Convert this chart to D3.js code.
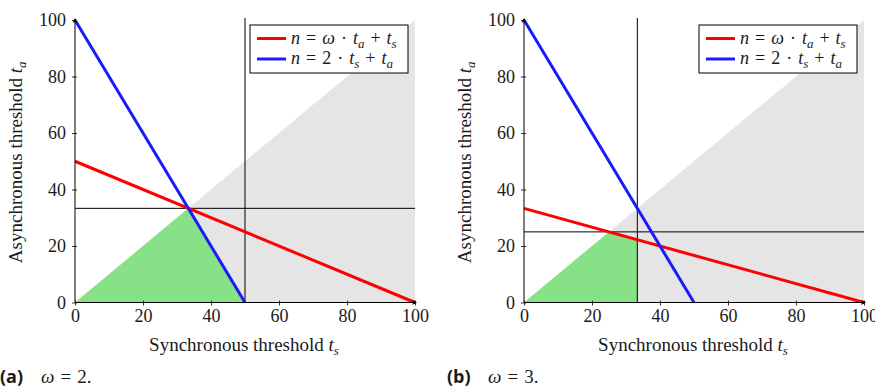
<!DOCTYPE html>
<html>
<head>
<meta charset="utf-8">
<script src="https://cdn.jsdelivr.net/npm/d3@7"></script>
<style>
  body { margin: 0; background: #fff; }
</style>
</head>
<body>
<svg id="chart" width="875" height="389"></svg>
<script>
// data for the two panels
var omegas = [2, 3];
var panelNames = ["(a)", "(b)"];
var tickValues = [0, 20, 40, 60, 80, 100];
var grayRegion = [[0, 0], [100, 100], [100, 0]];
var greenRegions = [
  [[0, 0], [33.33, 33.33], [50, 0]],
  [[0, 0], [25, 25], [33.33, 22.22], [33.33, 0]]
];
var redLines = [
  [[0, 50], [100, 0]],
  [[0, 33.33], [100, 0]]
];
var blueLines = [
  [[0, 100], [50, 0]],
  [[0, 100], [50, 0]]
];
var vLines = [50, 33.33];
var hLines = [33.33, 25];

var SERIF = "Liberation Serif";
var svg = d3.select("#chart");
var panelLeft = [75, 524];
var plotW = 340, plotTop = 20, plotBottom = 302.5;

function serifText(sel, size) {
  return sel.style("font-family", SERIF).style("font-size", (size || 18) + "px").attr("fill", "#1a1a1a");
}

// [text, italic, subscript, dx before]
function mathText(t, parts) {
  var prevSub = false;
  parts.forEach(function(p) {
    var ts = t.append("tspan").text(p[0]);
    if (p[1]) ts.attr("font-style", "italic");
    var dy = 0;
    if (p[2]) { ts.style("font-size", "13px"); if (!prevSub) dy = 4; prevSub = true; }
    else if (prevSub) { dy = -4; prevSub = false; }
    if (dy) ts.attr("dy", dy);
    if (p[3]) ts.attr("dx", p[3]);
  });
  return t;
}

panelLeft.forEach(function(left, i) {
  var x = d3.scaleLinear().domain([0, 100]).range([left, left + plotW]);
  var y = d3.scaleLinear().domain([0, 100]).range([plotBottom, plotTop]);
  var g = svg.append("g");
  var line = d3.line().x(function(d) { return x(d[0]); }).y(function(d) { return y(d[1]); });

  g.append("path").attr("d", line(grayRegion) + "Z").attr("fill", "#e5e5e5");
  g.append("path").attr("d", line(greenRegions[i]) + "Z").attr("fill", "#87e187");

  // threshold lines
  g.append("line").attr("x1", x(vLines[i])).attr("x2", x(vLines[i]))
    .attr("y1", y(0)).attr("y2", y(100) - 2).attr("stroke", "#000").attr("stroke-width", 1);
  g.append("line").attr("x1", x(0)).attr("x2", x(100))
    .attr("y1", y(hLines[i])).attr("y2", y(hLines[i])).attr("stroke", "#000").attr("stroke-width", 1);

  g.append("path").attr("d", line(redLines[i])).attr("stroke", "#ff0000").attr("stroke-width", 3).attr("fill", "none");
  g.append("path").attr("d", line(blueLines[i])).attr("stroke", "#1a1aff").attr("stroke-width", 3).attr("fill", "none");

  // axes
  var xAxis = g.append("g").attr("transform", "translate(0," + plotBottom + ")")
    .call(d3.axisBottom(x).tickValues(tickValues).tickSize(3).tickPadding(4));
  var yAxis = g.append("g").attr("transform", "translate(" + left + ",0)")
    .call(d3.axisLeft(y).tickValues(tickValues).tickSize(3).tickPadding(6));
  [xAxis, yAxis].forEach(function(ax) {
    ax.select(".domain").remove();
    ax.attr("font-family", null).attr("font-size", null);
    serifText(ax.selectAll("text"), 18);
    ax.selectAll(".tick line").attr("stroke", "#333");
  });
  xAxis.selectAll(".tick line").attr("y1", -2);
  yAxis.selectAll(".tick line").attr("x1", 2);
  yAxis.selectAll("text").attr("dy", "0.33em");

  g.append("line").attr("x1", left).attr("x2", left + plotW + 1)
    .attr("y1", plotBottom).attr("y2", plotBottom).attr("stroke", "#000");
  g.append("line").attr("x1", left).attr("x2", left)
    .attr("y1", plotBottom).attr("y2", plotTop - 1).attr("stroke", "#000");
  g.append("path").attr("d", "M" + (left + plotW + 2) + "," + plotBottom + "l-5,-2.5l1.5,2.5l-1.5,2.5Z");
  g.append("path").attr("d", "M" + left + "," + (plotTop - 2) + "l-2.5,5l2.5,-1.5l2.5,1.5Z");

  // axis titles
  var xt = serifText(g.append("text"), 19).attr("x", left + plotW / 2 - 1).attr("y", 351)
    .attr("text-anchor", "middle");
  mathText(xt, [["Synchronous threshold ", 0, 0], ["t", 1, 0], ["s", 1, 1]]);

  var yt = serifText(g.append("text"), 19)
    .attr("transform", "translate(" + (left - 53) + "," + ((plotTop + plotBottom) / 2 + 1) + ") rotate(-90)")
    .attr("text-anchor", "middle");
  mathText(yt, [["Asynchronous threshold ", 0, 0], ["t", 1, 0], ["a", 1, 1]]);

  // legend
  var lx = left + 175, ly = 25;
  var lg = g.append("g");
  lg.append("rect").attr("x", lx).attr("y", ly).attr("width", 158).attr("height", 48)
    .attr("fill", "#fff").attr("stroke", "#000");
  var entries = [
    { color: "#ff0000", parts: [["n", 1, 0], ["=", 0, 0, 6], ["ω", 1, 0, 6], ["·", 0, 0, 6], ["t", 1, 0, 6], ["a", 1, 1], ["+", 0, 0, 6], ["t", 1, 0, 6], ["s", 1, 1]] },
    { color: "#1a1aff", parts: [["n", 1, 0], ["=", 0, 0, 6], ["2", 0, 0, 6], ["·", 0, 0, 6], ["t", 1, 0, 6], ["s", 1, 1], ["+", 0, 0, 6], ["t", 1, 0, 6], ["a", 1, 1]] }
  ];
  entries.forEach(function(e, k) {
    var yy = ly + 13.5 + k * 20.5;
    lg.append("line").attr("x1", lx + 7).attr("x2", lx + 36).attr("y1", yy).attr("y2", yy)
      .attr("stroke", e.color).attr("stroke-width", 3);
    var t = serifText(lg.append("text"), 18).attr("x", lx + 41).attr("y", yy + 5);
    mathText(t, e.parts);
  });

  // caption
  var cx = i === 0 ? 0 : 447;
  svg.append("text").attr("x", cx).attr("y", 383)
    .style("font-family", "Open Sans").style("font-size", "18px")
    .attr("font-weight", "bold").attr("fill", "#1a1a1a").text(panelNames[i]);
  var capm = serifText(svg.append("text"), 19).attr("x", cx + 41).attr("y", 383);
  mathText(capm, [["ω", 1, 0], ["=", 0, 0, 6], [String(omegas[i]) + ".", 0, 0, 6]]);
});
</script>
</body>
</html>
